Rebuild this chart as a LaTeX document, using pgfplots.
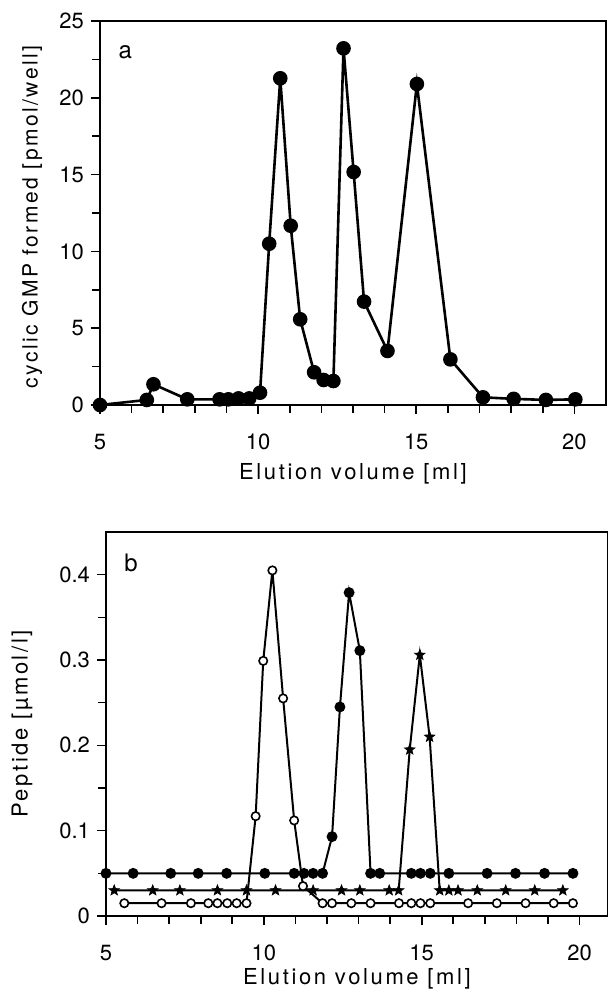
\documentclass[border=0pt]{standalone}
\usepackage{fontspec}
\setmainfont{TeX Gyre Heros}
\newfontfamily\lsfont[LetterSpace=12]{TeX Gyre Heros}
\usepackage{pgfplots}
\pgfplotsset{compat=1.18}

% filled five-pointed star
\pgfdeclareplotmark{fstar}{%
  \pgfpathmoveto{\pgfpointpolar{90}{\pgfplotmarksize}}%
  \pgfpathlineto{\pgfpointpolar{126}{0.42\pgfplotmarksize}}%
  \pgfpathlineto{\pgfpointpolar{162}{\pgfplotmarksize}}%
  \pgfpathlineto{\pgfpointpolar{198}{0.42\pgfplotmarksize}}%
  \pgfpathlineto{\pgfpointpolar{234}{\pgfplotmarksize}}%
  \pgfpathlineto{\pgfpointpolar{270}{0.42\pgfplotmarksize}}%
  \pgfpathlineto{\pgfpointpolar{306}{\pgfplotmarksize}}%
  \pgfpathlineto{\pgfpointpolar{342}{0.42\pgfplotmarksize}}%
  \pgfpathlineto{\pgfpointpolar{18}{\pgfplotmarksize}}%
  \pgfpathlineto{\pgfpointpolar{54}{0.42\pgfplotmarksize}}%
  \pgfpathclose
  \pgfusepathqfillstroke}

% panel a: cGMP activity
\pgfplotstableread{
x y
5.00 0.00
6.48 0.33
6.69 1.35
7.76 0.37
8.78 0.37
9.06 0.37
9.38 0.43
9.72 0.43
10.06 0.80
10.35 10.50
10.70 21.27
11.03 11.67
11.33 5.58
11.77 2.13
12.07 1.63
12.38 1.56
12.70 23.22
13.02 15.17
13.35 6.73
14.09 3.52
15.02 20.90
16.08 2.97
17.11 0.50
18.08 0.40
19.10 0.33
20.03 0.37
}\cgmp

% panel b: peptides
\pgfplotstableread{
x y
5.00 0.05
5.86 0.05
7.05 0.05
7.92 0.05
8.82 0.05
10.03 0.05
10.96 0.05
11.27 0.05
11.56 0.05
11.86 0.05
12.16 0.093
12.41 0.245
12.70 0.379
13.04 0.311
13.38 0.05
13.67 0.05
14.67 0.05
14.96 0.05
15.27 0.05
15.86 0.05
17.07 0.05
17.97 0.05
18.89 0.05
19.79 0.05
}\filled

\pgfplotstableread{
x y
5.58 0.015
6.76 0.015
7.69 0.015
8.24 0.015
8.53 0.015
8.84 0.015
9.14 0.015
9.45 0.015
9.74 0.117
9.98 0.299
10.27 0.405
10.61 0.255
10.96 0.112
11.24 0.035
11.86 0.015
12.16 0.015
12.77 0.015
13.38 0.015
14.28 0.015
14.67 0.015
14.96 0.015
15.27 0.015
16.47 0.015
17.38 0.015
18.29 0.015
19.18 0.015
19.79 0.015
}\opencirc

\pgfplotstableread{
x y
5.26 0.03
6.48 0.03
7.34 0.03
8.53 0.03
9.45 0.03
10.37 0.03
11.56 0.03
12.46 0.03
13.04 0.03
13.97 0.03
14.27 0.03
14.62 0.195
14.94 0.306
15.25 0.210
15.57 0.03
15.86 0.03
16.15 0.03
16.76 0.03
17.66 0.03
18.58 0.03
19.47 0.03
}\stars

\pgfplotsset{
  panel/.style={
    scale only axis,
    height=192pt,
    xmin=5,
    axis line style={line width=0.9pt},
    tick style={line width=0.8pt, black},
    tick align=outside,
    tick pos=left,
    major tick length=4.5pt,
    minor tick length=4pt,
    xtick={5,10,15,20},
    minor xtick={6,7,8,9,11,12,13,14,16,17,18,19},
    tick label style={font=\fontsize{11}{13}\selectfont},
    xticklabel style={yshift=-6.5pt},
    label style={font=\lsfont\fontsize{11}{13}\selectfont},
    /pgf/number format/assume math mode=true,
    xlabel={Elution volume [ml]},
  },
}

\begin{document}
\begin{tikzpicture}
\begin{axis}[panel,
  at={(50pt,-10.5pt)}, anchor=north west,
  width=253pt,
  xmax=21, ymin=0, ymax=25,
  ytick={0,5,10,15,20,25},
  minor ytick={2.5,7.5,12.5,17.5,22.5},
  ylabel={cyclic GMP formed [pmol/well]},
  ylabel style={at={(rel axis cs:0,0.49)}, anchor=center, yshift=34pt,
    font=\lsfont\fontsize{10.5}{12}\selectfont},
]
\addplot[black, line width=1.3pt, mark=*, mark size=3pt] table[x=x, y=y] {\cgmp};
\node[anchor=center, font=\fontsize{12}{14}\selectfont] at (rel axis cs:0.05,0.92) {a};
\end{axis}

\begin{axis}[panel,
  at={(53pt,-266pt)}, anchor=north west,
  width=251pt,
  xmax=20.9, ymin=0, ymax=0.45,
  ytick={0,0.1,0.2,0.3,0.4},
  minor ytick={0.05,0.15,0.25,0.35},
  ylabel={Peptide [\textmu mol/l]},
  ylabel style={at={(rel axis cs:0,0.5)}, anchor=center, yshift=42pt},
  xlabel style={yshift=3pt},
]
\addplot[black, line width=1pt, mark=*, mark size=2.2pt] table[x=x, y=y] {\filled};
\addplot[black, line width=1pt, mark=fstar, mark size=2.8pt, mark options={line width=0.3pt}] table[x=x, y=y] {\stars};
\addplot[black, line width=1pt, mark=*, mark size=2.1pt, mark options={fill=white, line width=0.8pt}] table[x=x, y=y] {\opencirc};
\node[anchor=center, font=\fontsize{12}{14}\selectfont] at (rel axis cs:0.05,0.92) {b};
\end{axis}

\pgfresetboundingbox
\path[use as bounding box] (0,0) rectangle (304pt,-496.5pt);
\end{tikzpicture}
\end{document}
